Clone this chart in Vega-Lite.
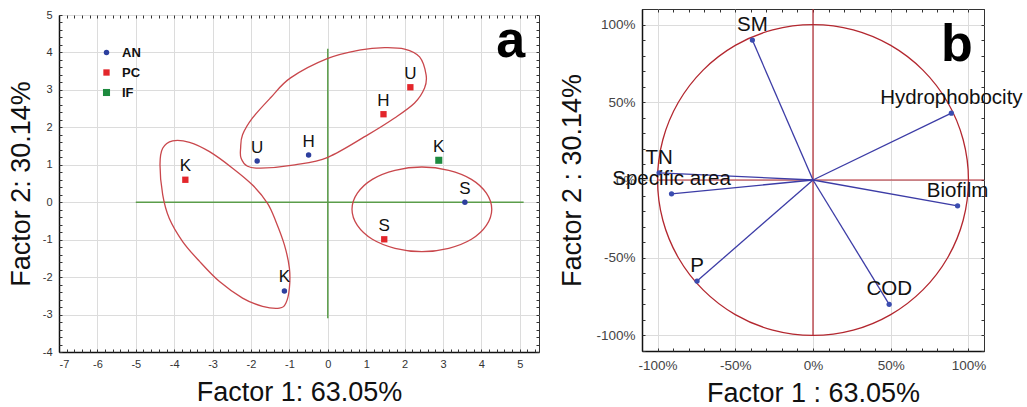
{
  "$schema": "https://vega.github.io/schema/vega-lite/v6.json",
  "padding": {"left": 6, "top": 7, "right": 0, "bottom": 0},
  "background": "white",
  "spacing": 18,
  "config": {
    "font": "Liberation Sans",
    "view": {"stroke": "#333", "strokeWidth": 1},
    "axis": {"labelFont": "Liberation Sans", "labelFontSize": 11, "labelColor": "#333", "titleFont": "Liberation Sans", "titleFontSize": 27, "titleFontWeight": "normal", "titleColor": "#111", "gridColor": "#dcdcdc", "gridWidth": 1, "domainColor": "#111", "tickColor": "#333"}
  },
  "datasets": {
    "crossA": [
      {"x": -5, "x2": 5.1, "y": 0, "y2": 0},
      {"x": 0, "x2": 0, "y": -3.1, "y2": 4.1}
    ],
    "ell": [
      {"e": "e1", "i": 1, "x": -2.27, "y": 1.45}, {"e": "e1", "i": 2, "x": -2.22, "y": 1.8}, {"e": "e1", "i": 3, "x": -1.96, "y": 2.25}, {"e": "e1", "i": 4, "x": -1.49, "y": 2.79}, {"e": "e1", "i": 5, "x": -0.97, "y": 3.32}, {"e": "e1", "i": 6, "x": 0.0, "y": 3.84}, {"e": "e1", "i": 7, "x": 0.86, "y": 4.07}, {"e": "e1", "i": 8, "x": 1.48, "y": 4.13}, {"e": "e1", "i": 9, "x": 2.0, "y": 4.09}, {"e": "e1", "i": 10, "x": 2.39, "y": 3.88}, {"e": "e1", "i": 11, "x": 2.56, "y": 3.4}, {"e": "e1", "i": 12, "x": 2.52, "y": 3.05}, {"e": "e1", "i": 13, "x": 2.26, "y": 2.65}, {"e": "e1", "i": 14, "x": 1.74, "y": 2.25}, {"e": "e1", "i": 15, "x": 1.04, "y": 1.8}, {"e": "e1", "i": 16, "x": 0.0, "y": 1.2}, {"e": "e1", "i": 17, "x": -0.86, "y": 1.0}, {"e": "e1", "i": 18, "x": -1.75, "y": 0.91}, {"e": "e1", "i": 19, "x": -2.09, "y": 0.96}, {"e": "e1", "i": 20, "x": -2.26, "y": 1.18},
      {"e": "e2", "i": 1, "x": -4.04, "y": 1.64}, {"e": "e2", "i": 2, "x": -4.3, "y": 1.44}, {"e": "e2", "i": 3, "x": -4.37, "y": 1.0}, {"e": "e2", "i": 4, "x": -4.3, "y": 0.2}, {"e": "e2", "i": 5, "x": -4.13, "y": -0.43}, {"e": "e2", "i": 6, "x": -3.78, "y": -1.05}, {"e": "e2", "i": 7, "x": -3.34, "y": -1.58}, {"e": "e2", "i": 8, "x": -2.82, "y": -2.12}, {"e": "e2", "i": 9, "x": -2.22, "y": -2.56}, {"e": "e2", "i": 10, "x": -1.7, "y": -2.78}, {"e": "e2", "i": 11, "x": -1.26, "y": -2.83}, {"e": "e2", "i": 12, "x": -1.09, "y": -2.69}, {"e": "e2", "i": 13, "x": -1.0, "y": -2.29}, {"e": "e2", "i": 14, "x": -1.0, "y": -1.76}, {"e": "e2", "i": 15, "x": -1.13, "y": -1.14}, {"e": "e2", "i": 16, "x": -1.35, "y": -0.52}, {"e": "e2", "i": 17, "x": -1.57, "y": -0.03}, {"e": "e2", "i": 18, "x": -1.96, "y": 0.46}, {"e": "e2", "i": 19, "x": -2.48, "y": 0.91}, {"e": "e2", "i": 20, "x": -3.08, "y": 1.35}, {"e": "e2", "i": 21, "x": -3.6, "y": 1.6},
      {"e": "e3", "i": 1, "x": 4.27, "y": -0.19}, {"e": "e3", "i": 2, "x": 4.13, "y": 0.24}, {"e": "e3", "i": 3, "x": 3.74, "y": 0.61}, {"e": "e3", "i": 4, "x": 3.15, "y": 0.85}, {"e": "e3", "i": 5, "x": 2.45, "y": 0.94}, {"e": "e3", "i": 6, "x": 1.75, "y": 0.85}, {"e": "e3", "i": 7, "x": 1.16, "y": 0.61}, {"e": "e3", "i": 8, "x": 0.77, "y": 0.24}, {"e": "e3", "i": 9, "x": 0.63, "y": -0.19}, {"e": "e3", "i": 10, "x": 0.77, "y": -0.62}, {"e": "e3", "i": 11, "x": 1.16, "y": -0.99}, {"e": "e3", "i": 12, "x": 1.75, "y": -1.23}, {"e": "e3", "i": 13, "x": 2.45, "y": -1.32}, {"e": "e3", "i": 14, "x": 3.15, "y": -1.23}, {"e": "e3", "i": 15, "x": 3.74, "y": -0.99}, {"e": "e3", "i": 16, "x": 4.13, "y": -0.62}
    ],
    "ptsA": [
      {"g": "AN", "lab": "U", "x": -1.84, "y": 1.1},
      {"g": "AN", "lab": "H", "x": -0.5, "y": 1.26},
      {"g": "AN", "lab": "K", "x": -1.13, "y": -2.37},
      {"g": "AN", "lab": "S", "x": 3.57, "y": 0.0},
      {"g": "PC", "lab": "K", "x": -3.71, "y": 0.6},
      {"g": "PC", "lab": "U", "x": 2.15, "y": 3.07},
      {"g": "PC", "lab": "H", "x": 1.45, "y": 2.35},
      {"g": "PC", "lab": "S", "x": 1.47, "y": -0.99},
      {"g": "IF", "lab": "K", "x": 2.89, "y": 1.12}
    ],
    "crossB": [
      {"x": -1, "x2": 1.1, "y": 0, "y2": 0},
      {"x": 0, "x2": 0, "y": -1, "y2": 1.1}
    ],
    "circle": [
      {"i": 1, "x": 1, "y": 0}, {"i": 2, "x": 0.966, "y": 0.259}, {"i": 3, "x": 0.866, "y": 0.5}, {"i": 4, "x": 0.707, "y": 0.707}, {"i": 5, "x": 0.5, "y": 0.866}, {"i": 6, "x": 0.259, "y": 0.966}, {"i": 7, "x": 0, "y": 1}, {"i": 8, "x": -0.259, "y": 0.966}, {"i": 9, "x": -0.5, "y": 0.866}, {"i": 10, "x": -0.707, "y": 0.707}, {"i": 11, "x": -0.866, "y": 0.5}, {"i": 12, "x": -0.966, "y": 0.259}, {"i": 13, "x": -1, "y": 0}, {"i": 14, "x": -0.966, "y": -0.259}, {"i": 15, "x": -0.866, "y": -0.5}, {"i": 16, "x": -0.707, "y": -0.707}, {"i": 17, "x": -0.5, "y": -0.866}, {"i": 18, "x": -0.259, "y": -0.966}, {"i": 19, "x": 0, "y": -1}, {"i": 20, "x": 0.259, "y": -0.966}, {"i": 21, "x": 0.5, "y": -0.866}, {"i": 22, "x": 0.707, "y": -0.707}, {"i": 23, "x": 0.866, "y": -0.5}, {"i": 24, "x": 0.966, "y": -0.259}
    ],
    "ptsB": [
      {"v": "SM", "x": -0.39, "y": 0.9},
      {"v": "Hydrophobocity", "x": 0.89, "y": 0.43},
      {"v": "Biofilm", "x": 0.93, "y": -0.166},
      {"v": "COD", "x": 0.49, "y": -0.8},
      {"v": "P", "x": -0.746, "y": -0.65},
      {"v": "TN", "x": -0.99, "y": 0.046},
      {"v": "Specific area", "x": -0.91, "y": -0.089}
    ]
  },
  "hconcat": [
    {
      "spacing": -2,
      "vconcat": [
        {
          "width": 480,
          "height": 1,
          "view": {"stroke": null},
          "data": {"values": []},
          "mark": "point"
        },
        {
          "width": 480,
          "height": 337,
          "resolve": {"axis": {"x": "independent", "y": "independent"}},
          "layer": [
            {
              "data": {"name": "crossA"},
              "mark": {"type": "rule", "color": "#5b9d4a", "strokeWidth": 1.5},
              "encoding": {
                "x": {"field": "x", "type": "quantitative", "scale": {"domain": [-7, 5.5], "nice": false, "zero": false},
                      "axis": {"values": [-7, -6, -5, -4, -3, -2, -1, 0, 1, 2, 3, 4, 5], "grid": true, "ticks": false, "labelPadding": 6, "domainWidth": 1.5, "title": "Factor 1: 63.05%", "titlePadding": 10, "labelExpr": "'' + datum.value"}},
                "x2": {"field": "x2"},
                "y": {"field": "y", "type": "quantitative", "scale": {"domain": [-4, 5], "nice": false, "zero": false},
                      "axis": {"values": [-4, -3, -2, -1, 0, 1, 2, 3, 4, 5], "grid": true, "ticks": false, "labelPadding": 7, "domainWidth": 1.5, "title": "Factor 2: 30.14%", "titlePadding": 7, "labelExpr": "'' + datum.value"}},
                "y2": {"field": "y2"}
              }
            },
            {
              "data": {"name": "ell"},
              "mark": {"type": "line", "color": "#c9474c", "strokeWidth": 1.3, "interpolate": "cardinal-closed"},
              "encoding": {
                "x": {"field": "x", "type": "quantitative",
                      "axis": {"orient": "bottom", "values": [-7,-6.8,-6.6,-6.4,-6.2,-6,-5.8,-5.6,-5.4,-5.2,-5,-4.8,-4.6,-4.4,-4.2,-4,-3.8,-3.6,-3.4,-3.2,-3,-2.8,-2.6,-2.4,-2.2,-2,-1.8,-1.6,-1.4,-1.2,-1,-0.8,-0.6,-0.4,-0.2,0,0.2,0.4,0.6,0.8,1,1.2,1.4,1.6,1.8,2,2.2,2.4,2.6,2.8,3,3.2,3.4,3.6,3.8,4,4.2,4.4,4.6,4.8,5,5.2,5.4], "labels": false, "grid": false, "domain": false, "title": null, "tickSize": -3}},
                "y": {"field": "y", "type": "quantitative",
                      "axis": {"orient": "left", "values": [-4,-3.8,-3.6,-3.4,-3.2,-3,-2.8,-2.6,-2.4,-2.2,-2,-1.8,-1.6,-1.4,-1.2,-1,-0.8,-0.6,-0.4,-0.2,0,0.2,0.4,0.6,0.8,1,1.2,1.4,1.6,1.8,2,2.2,2.4,2.6,2.8,3,3.2,3.4,3.6,3.8,4,4.2,4.4,4.6,4.8,5], "labels": false, "grid": false, "domain": false, "title": null, "tickSize": -3}},
                "detail": {"field": "e", "type": "nominal"},
                "order": {"field": "i", "type": "quantitative"}
              }
            },
            {
              "data": {"name": "ptsA"},
              "mark": {"type": "point", "filled": true, "opacity": 1},
              "encoding": {
                "x": {"field": "x", "type": "quantitative",
                      "axis": {"orient": "top", "values": [-7,-6.8,-6.6,-6.4,-6.2,-6,-5.8,-5.6,-5.4,-5.2,-5,-4.8,-4.6,-4.4,-4.2,-4,-3.8,-3.6,-3.4,-3.2,-3,-2.8,-2.6,-2.4,-2.2,-2,-1.8,-1.6,-1.4,-1.2,-1,-0.8,-0.6,-0.4,-0.2,0,0.2,0.4,0.6,0.8,1,1.2,1.4,1.6,1.8,2,2.2,2.4,2.6,2.8,3,3.2,3.4,3.6,3.8,4,4.2,4.4,4.6,4.8,5,5.2,5.4], "labels": false, "grid": false, "domain": false, "title": null, "tickSize": -3}},
                "y": {"field": "y", "type": "quantitative",
                      "axis": {"orient": "right", "values": [-4,-3.8,-3.6,-3.4,-3.2,-3,-2.8,-2.6,-2.4,-2.2,-2,-1.8,-1.6,-1.4,-1.2,-1,-0.8,-0.6,-0.4,-0.2,0,0.2,0.4,0.6,0.8,1,1.2,1.4,1.6,1.8,2,2.2,2.4,2.6,2.8,3,3.2,3.4,3.6,3.8,4,4.2,4.4,4.6,4.8,5], "labels": false, "grid": false, "domain": false, "title": null, "tickSize": -3}},
                "color": {"field": "g", "type": "nominal", "scale": {"domain": ["AN", "PC", "IF"], "range": ["#2d3f9e", "#e3262b", "#1d8a3e"]},
                          "legend": {"orient": "none", "legendX": 41, "legendY": 37, "title": null, "padding": 0, "labelFontWeight": "bold", "labelFontSize": 13, "labelColor": "#111", "rowPadding": 6, "labelOffset": 9}},
                "shape": {"field": "g", "type": "nominal", "scale": {"domain": ["AN", "PC", "IF"], "range": ["circle", "square", "square"]}},
                "size": {"field": "g", "type": "nominal", "scale": {"domain": ["AN", "PC", "IF"], "range": [30, 50, 80]}}
              }
            },
            {
              "data": {"name": "ptsA"},
              "mark": {"type": "text", "fontSize": 17, "color": "#111", "dy": -8.5, "baseline": "alphabetic"},
              "encoding": {
                "x": {"field": "x", "type": "quantitative", "axis": null},
                "y": {"field": "y", "type": "quantitative", "axis": null},
                "text": {"field": "lab"}
              }
            },
            {
              "data": {"values": [{"t": "a"}]},
              "mark": {"type": "text", "fontSize": 52, "fontWeight": "bold", "color": "#000", "baseline": "alphabetic", "align": "center"},
              "encoding": {
                "x": {"datum": 4.76, "type": "quantitative", "axis": null},
                "y": {"datum": 3.88, "type": "quantitative", "axis": null},
                "text": {"field": "t"}
              }
            }
          ]
        }
      ]
    },
    {
      "width": 342,
      "height": 342,
      "resolve": {"axis": {"x": "independent", "y": "independent"}},
      "layer": [
        {
          "data": {"name": "crossB"},
          "mark": {"type": "rule", "color": "#b3272f", "strokeWidth": 1.2},
          "encoding": {
            "x": {"field": "x", "type": "quantitative", "scale": {"domain": [-1.1, 1.1], "nice": false, "zero": false},
                  "axis": {"values": [-1, -0.5, 0, 0.5, 1], "grid": true, "ticks": false, "labelPadding": 7, "labelFontSize": 13.5, "labelColor": "#444", "domainWidth": 1.5, "title": "Factor 1 : 63.05%", "titlePadding": 9, "labelExpr": "round(datum.value * 100) + '%'"}},
            "x2": {"field": "x2"},
            "y": {"field": "y", "type": "quantitative", "scale": {"domain": [-1.1, 1.1], "nice": false, "zero": false},
                  "axis": {"values": [-1, -0.5, 0, 0.5, 1], "grid": true, "ticks": false, "labelPadding": 7, "labelFontSize": 13.5, "labelColor": "#444", "domainWidth": 1.5, "title": "Factor 2 : 30.14%", "titlePadding": 9, "labelExpr": "round(datum.value * 100) + '%'"}},
            "y2": {"field": "y2"}
          }
        },
        {
          "data": {"name": "circle"},
          "mark": {"type": "line", "color": "#b3272f", "strokeWidth": 1.3, "interpolate": "cardinal-closed"},
          "encoding": {
            "x": {"field": "x", "type": "quantitative",
                  "axis": {"orient": "bottom", "values": [-1.1,-1,-0.9,-0.8,-0.7,-0.6,-0.5,-0.4,-0.3,-0.2,-0.1,0,0.1,0.2,0.3,0.4,0.5,0.6,0.7,0.8,0.9,1,1.1], "labels": false, "grid": false, "domain": false, "title": null, "tickSize": -3}},
            "y": {"field": "y", "type": "quantitative",
                  "axis": {"orient": "left", "values": [-1.1,-1,-0.9,-0.8,-0.7,-0.6,-0.5,-0.4,-0.3,-0.2,-0.1,0,0.1,0.2,0.3,0.4,0.5,0.6,0.7,0.8,0.9,1,1.1], "labels": false, "grid": false, "domain": false, "title": null, "tickSize": -3}},
            "order": {"field": "i", "type": "quantitative"}
          }
        },
        {
          "data": {"name": "ptsB"},
          "mark": {"type": "rule", "color": "#3c3ca6", "strokeWidth": 1.3},
          "encoding": {
            "x": {"field": "x", "type": "quantitative", "axis": null},
            "y": {"field": "y", "type": "quantitative", "axis": null},
            "x2": {"datum": 0},
            "y2": {"datum": 0}
          }
        },
        {
          "data": {"name": "ptsB"},
          "mark": {"type": "point", "filled": true, "opacity": 1, "color": "#3b4db0", "size": 28, "shape": "circle"},
          "encoding": {
            "x": {"field": "x", "type": "quantitative",
                  "axis": {"orient": "top", "values": [-1.1,-1,-0.9,-0.8,-0.7,-0.6,-0.5,-0.4,-0.3,-0.2,-0.1,0,0.1,0.2,0.3,0.4,0.5,0.6,0.7,0.8,0.9,1,1.1], "labels": false, "grid": false, "domain": false, "title": null, "tickSize": -3}},
            "y": {"field": "y", "type": "quantitative",
                  "axis": {"orient": "right", "values": [-1.1,-1,-0.9,-0.8,-0.7,-0.6,-0.5,-0.4,-0.3,-0.2,-0.1,0,0.1,0.2,0.3,0.4,0.5,0.6,0.7,0.8,0.9,1,1.1], "labels": false, "grid": false, "domain": false, "title": null, "tickSize": -3}}
          }
        },
        {
          "data": {"name": "ptsB"},
          "mark": {"type": "text", "fontSize": 20.5, "color": "#111", "dy": -9, "baseline": "alphabetic", "clip": false},
          "encoding": {
            "x": {"field": "x", "type": "quantitative", "axis": null},
            "y": {"field": "y", "type": "quantitative", "axis": null},
            "text": {"field": "v"}
          }
        },
        {
          "data": {"values": [{"t": "b"}]},
          "mark": {"type": "text", "fontSize": 52, "fontWeight": "bold", "color": "#000", "baseline": "alphabetic", "align": "center"},
          "encoding": {
            "x": {"datum": 0.926, "type": "quantitative", "axis": null},
            "y": {"datum": 0.768, "type": "quantitative", "axis": null},
            "text": {"field": "t"}
          }
        }
      ]
    }
  ]
}
